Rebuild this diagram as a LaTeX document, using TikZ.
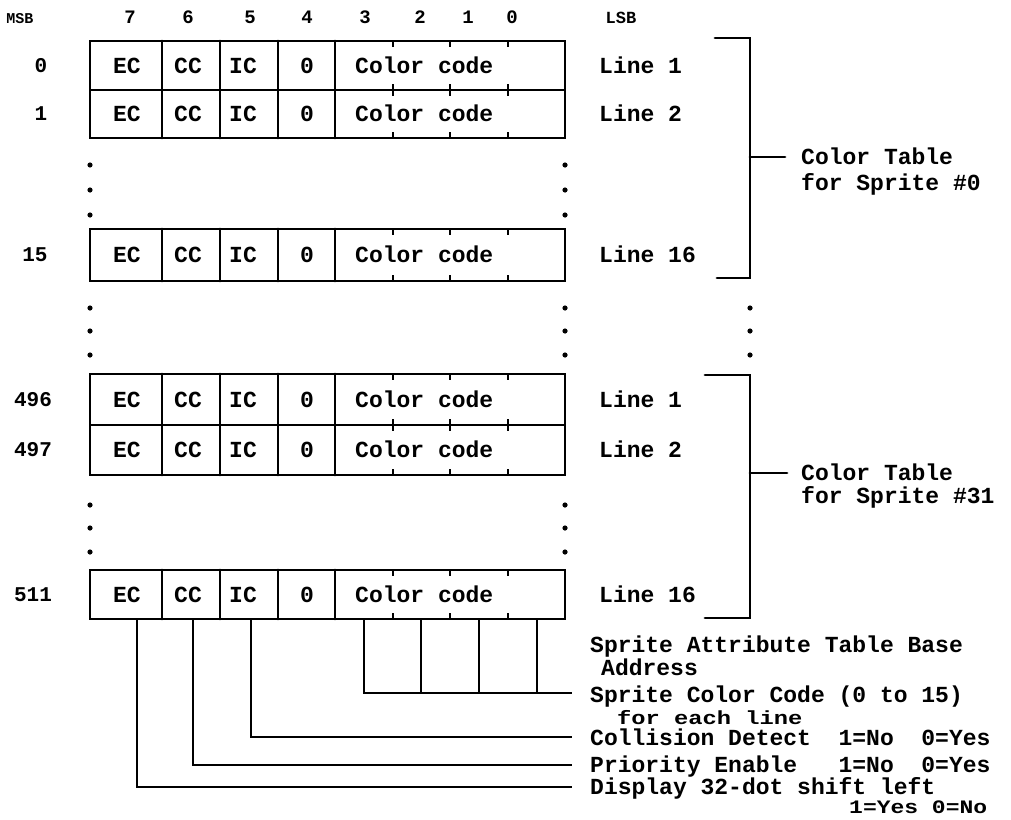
\documentclass[tikz,border=0pt]{standalone}
\usepackage{fontspec}
\usepackage{graphicx}
\setmainfont{Liberation Mono}
\newcommand\bitrow[7]{% #1 top, #2 bottom, #3 mid, #4 name, #5 row label, #6 label x, #7 line label
  \draw[boxline] (90,#1) rectangle (565,#2);
  \foreach \xx in {162,220,278,335} \draw[boxline] (\xx,#1) -- (\xx,#2);
  \foreach \xx in {393,450,508} {\draw[tickline] (\xx,#1) -- ++(0,6); \draw[tickline] (\xx,#2) -- ++(0,-6);}
  \node[txt] (ec#4) at (127,#3) {EC};
  \node[txt] (cc#4) at (188,#3) {CC};
  \node[txt] (ic#4) at (243,#3) {IC};
  \node[txt] (zero#4) at (307,#3) {0};
  \node[txtw] (cd#4) at (355,#3) {Color code};
  \node[rowlbl] (rl#4) at (#6,#3) {#5};
  \node[txtw] (ll#4) at (599,#3) {#7};
}
\begin{document}
\begin{tikzpicture}[x=1pt,y=-1pt,
  boxline/.style={line width=2.8pt, line cap=round},
  tickline/.style={line width=2pt},
  conn/.style={line width=2.3pt},
  txt/.style={font=\fontsize{23}{23}\selectfont\bfseries, inner sep=0pt, anchor=base, yshift=-7.5pt},
  txtw/.style={txt, anchor=base west},
  smalltxt/.style={font=\fontsize{19}{19}\selectfont\bfseries, inner sep=0pt, anchor=base west},
  rowlbl/.style={font=\fontsize{21}{21}\selectfont\bfseries, inner sep=0pt, anchor=base, yshift=-6.9pt},
  hdr/.style={font=\fontsize{19}{19}\selectfont\bfseries, inner sep=0pt, anchor=base, yshift=-6.3pt},
  dotmark/.style={fill=black}]
\useasboundingbox (0,0) rectangle (1011,819);

% header
\node[hdr, font=\fontsize{15}{15}\selectfont\bfseries] (msb) at (20,17) {MSB};
\node[hdr] (h7) at (130,17) {7};
\node[hdr] (h6) at (188,17) {6};
\node[hdr] (h5) at (250,17) {5};
\node[hdr] (h4) at (307,17) {4};
\node[hdr] (h3) at (365,17) {3};
\node[hdr] (h2) at (420,17) {2};
\node[hdr] (h1) at (468,17) {1};
\node[hdr] (h0) at (512,17) {0};
\node[hdr, font=\fontsize{17}{17}\selectfont\bfseries] (lsb) at (621,17) {LSB};

% rows
\bitrow{41}{90}{65.5}{a0}{0}{41}{Line 1}
\bitrow{90}{138}{114}{a1}{1}{41}{Line 2}
\bitrow{229}{281}{255}{a15}{15}{35}{Line 16}
\bitrow{374}{425}{399.5}{b0}{496}{33}{Line 1}
\bitrow{425}{475}{450}{b1}{497}{33}{Line 2}
\bitrow{570}{619}{594.5}{b15}{511}{33}{Line 16}

% dots
\foreach \yy in {165,190,215,308,331,355,505,528,552} {
  \fill[dotmark] (90,\yy) circle (2.6pt);
  \fill[dotmark] (565,\yy) circle (2.6pt);
}
\foreach \yy in {308,331,355} \fill[dotmark] (750,\yy) circle (2.6pt);

% brackets
\draw[boxline] (715,38) -- (750,38) -- (750,278) -- (717,278);
\draw[boxline] (750,157) -- (785,157);
\node[txtw] (ct0) at (801,157) {Color Table};
\node[txtw] (fs0) at (801,183) {for Sprite \#0};
\draw[boxline] (705,375) -- (750,375) -- (750,618) -- (705,618);
\draw[boxline] (750,473) -- (787,473);
\node[txtw] (ct31) at (801,473) {Color Table};
\node[txtw] (fs31) at (801,496) {for Sprite \#31};

% bottom descriptions
\node[txtw] (sat) at (590,645) {Sprite Attribute Table Base};
\node[txtw] (addr) at (601,668) {Address};
\node[txtw] (scc) at (590,695) {Sprite Color Code (0 to 15)};
\node[smalltxt] (fel) at (617,724) {\scalebox{1.25}[1]{for each line}};
\node[txtw] (col) at (590,738) {Collision Detect~~1=No~~0=Yes};
\node[txtw] (pri) at (590,765) {Priority Enable~~~1=No~~0=Yes};
\node[txtw] (dsp) at (590,787) {Display 32-dot shift left};
\node[smalltxt] (yn) at (849,813) {\scalebox{1.21}[1]{1=Yes 0=No}};

% connectors
\coordinate (ecb) at (137,619);
\coordinate (ccb) at (193,619);
\coordinate (icb) at (251,619);
\coordinate (b3) at (364,619);
\coordinate (b2) at (421,619);
\coordinate (b1) at (479,619);
\coordinate (b0) at (537,619);
\coordinate (busl) at (364,693);
\coordinate (busr) at (572,693);
\coordinate (ice) at (572,737);
\coordinate (cce) at (572,765);
\coordinate (ece) at (572,787);
\draw[conn] (ecb) |- (ece);
\draw[conn] (ccb) |- (cce);
\draw[conn] (icb) |- (ice);
\draw[conn] (b3) -- (busl) -- (busr);
\draw[conn] (b2) -- (b2 |- busl);
\draw[conn] (b1) -- (b1 |- busl);
\draw[conn] (b0) -- (b0 |- busl);
\end{tikzpicture}
\end{document}
